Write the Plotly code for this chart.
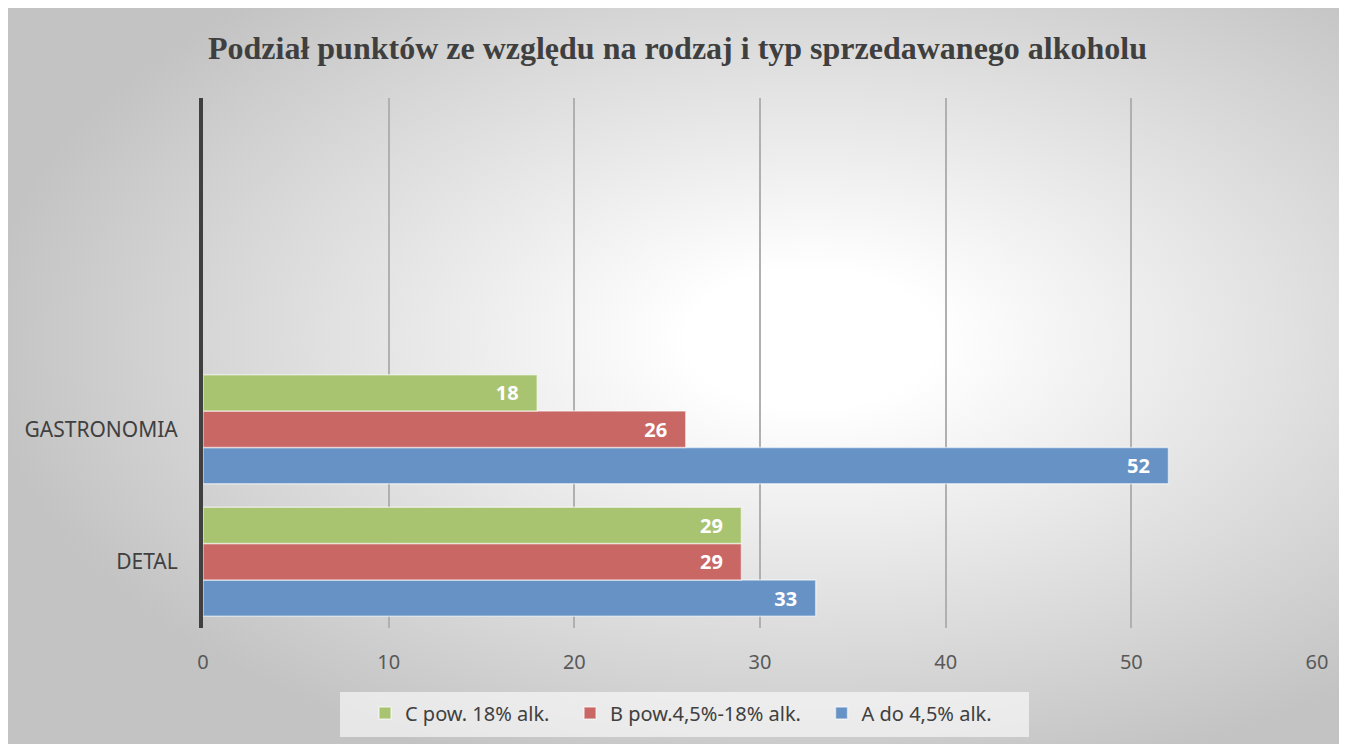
import plotly.graph_objects as go
import base64

categories = ["DETAL", "GASTRONOMIA"]
series_names = ["A do 4,5% alk.", "B pow.4,5%-18% alk.", "C pow. 18% alk."]
values_A = [33, 52]
values_B = [29, 26]
values_C = [29, 18]
x_ticks = [0, 10, 20, 30, 40, 50, 60]
title_text = "Podział punktów ze względu na rodzaj i typ sprzedawanego alkoholu"

colors = {"A": "#6792C6", "B": "#C86764", "C": "#A9C470"}

OFF = 8  # page body margin
W, H = 1339, 736
L, R, T, B = 195, 30, 90, 116
pw, ph = W - L - R, H - T - B

NB = "\u00a0"

fig = go.Figure()
for key, name, vals in [("A", series_names[0], values_A),
                        ("B", series_names[1], values_B),
                        ("C", series_names[2], values_C)]:
    fig.add_trace(go.Bar(
        y=categories, x=vals, name=name + NB * 3, orientation="h",
        marker=dict(color=colors[key], line=dict(color="rgba(255,255,255,0.55)", width=1.5)),
        text=[f"{v}{NB*3}" for v in vals],
        textposition="inside", insidetextanchor="end",
        textfont=dict(family="Noto Sans", size=20, color="white", weight="bold"),
        hoverinfo="skip",
    ))

svg = f'''<svg xmlns="http://www.w3.org/2000/svg" width="{W}" height="{H}" viewBox="0 0 {W} {H}" preserveAspectRatio="none">
<defs><radialGradient id="g" cx="0.6" cy="0.45" r="0.62" gradientUnits="objectBoundingBox">
<stop offset="0" stop-color="#ffffff"/><stop offset="0.15" stop-color="#ffffff"/>
<stop offset="1" stop-color="#c3c3c3"/></radialGradient></defs>
<rect x="0" y="0" width="{W}" height="{H}" fill="url(#g)"/></svg>'''
src = "data:image/svg+xml;base64," + base64.b64encode(svg.encode()).decode()


def px_x(p):
    return (p - OFF - L) / pw


def px_y(p):
    return (H - B - (p - OFF)) / ph


fig.add_layout_image(dict(
    source=src, xref="paper", yref="paper",
    x=px_x(OFF), y=px_y(OFF), sizex=W / pw, sizey=H / ph,
    xanchor="left", yanchor="top", sizing="stretch", layer="below",
))

fig.add_shape(type="rect", xref="paper", yref="paper",
              x0=px_x(340), x1=px_x(1029), y0=px_y(737), y1=px_y(692),
              fillcolor="rgba(255,255,255,0.6)", line=dict(width=0), layer="below")

fig.update_layout(
    width=W, height=H,
    margin=dict(l=L, r=R, t=T, b=B, pad=0),
    paper_bgcolor="white", plot_bgcolor="rgba(0,0,0,0)",
    barmode="group", bargap=0.177, bargroupgap=0,
    title=dict(text=f"<b>{title_text}</b>", x=0.5, xref="container", xanchor="center",
               y=1 - 40 / H, yanchor="middle",
               font=dict(family="Liberation Serif", size=32, color="#3f3f3f")),
    showlegend=True,
    legend=dict(orientation="h", traceorder="reversed", x=px_x(365), xanchor="left",
                y=px_y(713), yanchor="middle", bgcolor="rgba(0,0,0,0)",
                font=dict(family="Noto Sans", size=20, color="#404040")),
    xaxis=dict(range=[0, 60], tickvals=x_ticks, showgrid=True, gridcolor="#b0b0b0", gridwidth=1.5,
               zeroline=False, showline=False, ticks="", ticklabelstandoff=20,
               tickfont=dict(family="Noto Sans", size=20, color="#595959")),
    yaxis=dict(type="category", categoryarray=categories, range=[-0.5, 3.5],
               showgrid=False, zeroline=False, showline=True, linecolor="#404040", linewidth=4,
               ticks="", ticklabelstandoff=17,
               tickfont=dict(family="Noto Sans", size=21, color="#404040")),
)

fig.write_html("out.html")
